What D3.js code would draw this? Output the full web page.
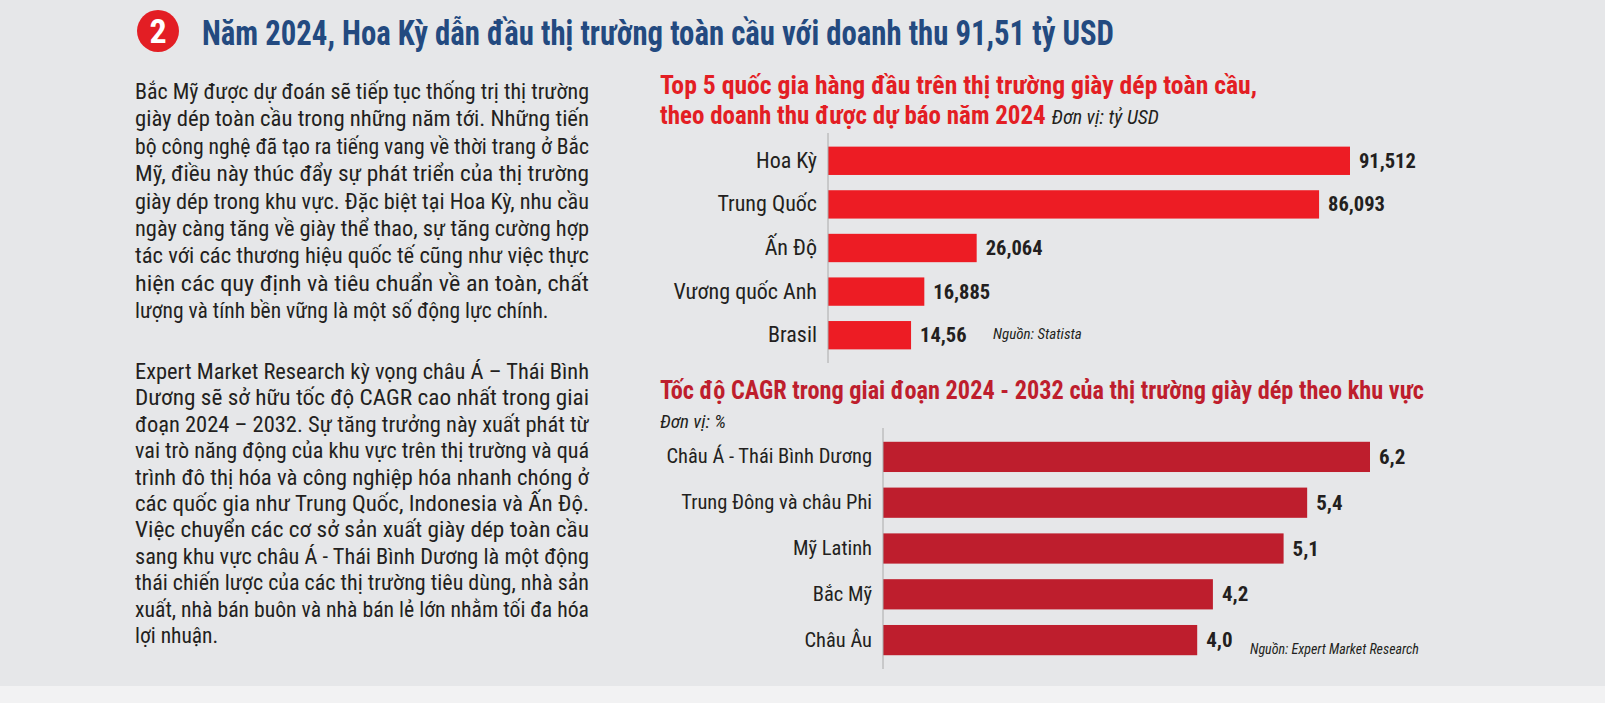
<!DOCTYPE html><html><head><meta charset="utf-8"><script src="https://cdn.jsdelivr.net/npm/d3@7"></script>
<style>body{margin:0;background:#e6e7e9}svg{display:block}text{font-family:"Roboto Condensed","Liberation Sans Narrow","DejaVu Sans Condensed",Roboto,sans-serif}</style></head><body><svg id="c" width="1605" height="703"></svg>
<script>
const countries=["Hoa Kỳ","Trung Quốc","Ấn Độ","Vương quốc Anh","Brasil"];
const revenue=[91.512,86.093,26.064,16.885,14.56];
const revenueLabels=["91,512","86,093","26,064","16,885","14,56"];
const regions=["Châu Á - Thái Bình Dương","Trung Đông và châu Phi","Mỹ Latinh","Bắc Mỹ","Châu Âu"];
const cagr=[6.2,5.4,5.1,4.2,4.0];
const cagrLabels=["6,2","5,4","5,1","4,2","4,0"];
const para1=["Bắc Mỹ được dự đoán sẽ tiếp tục thống trị thị trường","giày dép toàn cầu trong những năm tới. Những tiến","bộ công nghệ đã tạo ra tiếng vang về thời trang ở Bắc","Mỹ, điều này thúc đẩy sự phát triển của thị trường","giày dép trong khu vực. Đặc biệt tại Hoa Kỳ, nhu cầu","ngày càng tăng về giày thể thao, sự tăng cường hợp","tác với các thương hiệu quốc tế cũng như việc thực","hiện các quy định và tiêu chuẩn về an toàn, chất","lượng và tính bền vững là một số động lực chính."];
const para2=["Expert Market Research kỳ vọng châu Á – Thái Bình","Dương sẽ sở hữu tốc độ CAGR cao nhất trong giai","đoạn 2024 – 2032. Sự tăng trưởng này xuất phát từ","vai trò năng động của khu vực trên thị trường và quá","trình đô thị hóa và công nghiệp hóa nhanh chóng ở","các quốc gia như Trung Quốc, Indonesia và Ấn Độ.","Việc chuyển các cơ sở sản xuất giày dép toàn cầu","sang khu vực châu Á - Thái Bình Dương là một động","thái chiến lược của các thị trường tiêu dùng, nhà sản","xuất, nhà bán buôn và nhà bán lẻ lớn nhằm tối đa hóa","lợi nhuận."];
const svg=d3.select("#c");
svg.append("rect").attr("x",0).attr("y",686).attr("width",1605).attr("height",17).attr("fill","#f2f2f3");
svg.append("circle").attr("cx",158).attr("cy",31).attr("r",21).attr("fill","#e31e24");
svg.append("text").attr("x",158).attr("y",43).attr("text-anchor","middle").attr("fill","#fff").attr("font-size",34).attr("font-weight","bold").text("2");
svg.append("text").attr("x",202).attr("y",45).attr("fill","#234a80").attr("font-size",35).attr("font-weight","bold").attr("textLength",912).attr("lengthAdjust","spacingAndGlyphs").text("Năm 2024, Hoa Kỳ dẫn đầu thị trường toàn cầu với doanh thu 91,51 tỷ USD");
function para(lines,y0,dy){lines.forEach((l,i)=>{const t=svg.append("text").attr("x",135).attr("y",y0+i*dy).attr("fill","#231f20").attr("font-size",21.5).text(l);if(i<lines.length-1)t.attr("textLength",454).attr("lengthAdjust","spacingAndGlyphs");});}
para(para1,99,27.4);para(para2,379,26.4);
// chart 1
svg.append("text").attr("x",660).attr("y",94).attr("fill","#e31e24").attr("font-size",25).attr("font-weight","bold").attr("textLength",597).attr("lengthAdjust","spacingAndGlyphs").text("Top 5 quốc gia hàng đầu trên thị trường giày dép toàn cầu,");
const t2=svg.append("text").attr("x",660).attr("y",124).attr("font-size",25);
t2.append("tspan").attr("fill","#e31e24").attr("font-weight","bold").text("theo doanh thu được dự báo năm 2024 ");
t2.append("tspan").attr("fill","#231f20").attr("font-style","italic").attr("font-size",20).text(" Đơn vị: tỷ USD");
function bars(cats,vals,labs,x0,x1,vmax,y0,y1,bh,color,lfs,vfs){
 const x=d3.scaleLinear().domain([0,vmax]).range([x0,x1]);
 const y=d3.scaleBand().domain(cats).range([y0,y1]).paddingInner(1-bh).paddingOuter((1-bh)/2);
 const g=svg.append("g");
 g.selectAll("rect").data(cats).join("rect").attr("x",x0).attr("y",d=>y(d)).attr("height",y.bandwidth()).attr("width",(d,i)=>x(vals[i])-x0).attr("fill",color);
 const ax=g.append("g").attr("transform",`translate(${x0},0)`).call(d3.axisLeft(y).tickSize(0).tickPadding(11));
 ax.select(".domain").attr("stroke","#aaa").attr("d",`M0,${y0-6}V${y1+6}`);
 ax.selectAll("text").attr("font-size",lfs).attr("fill","#231f20").attr("font-family",null);
 g.selectAll(".v").data(cats).join("text").attr("x",(d,i)=>x(vals[i])+9).attr("y",d=>y(d)+y.bandwidth()/2+7).attr("font-size",vfs).attr("font-weight","bold").attr("fill","#231f20").text((d,i)=>labs[i]);
}
bars(countries,revenue,revenueLabels,828,1350,91.512,139,357,0.65,"#ed1c24",22,20.5);
svg.append("text").attr("x",993).attr("y",339).attr("font-size",15).attr("font-style","italic").attr("fill","#231f20").text("Nguồn: Statista");
// chart 2
svg.append("text").attr("x",660).attr("y",399).attr("fill","#be1e2d").attr("font-size",25).attr("font-weight","bold").attr("textLength",764).attr("lengthAdjust","spacingAndGlyphs").text("Tốc độ CAGR trong giai đoạn 2024 - 2032 của thị trường giày dép theo khu vực");
svg.append("text").attr("x",660).attr("y",428).attr("font-size",19).attr("font-style","italic").attr("fill","#231f20").text("Đơn vị: %");
bars(regions,cagr,cagrLabels,883,1370,6.2,434,663,0.66,"#be1e2d",20.5,21);
svg.append("text").attr("x",1250).attr("y",654).attr("font-size",14).attr("font-style","italic").attr("fill","#231f20").text("Nguồn: Expert Market Research");
</script></body></html>
